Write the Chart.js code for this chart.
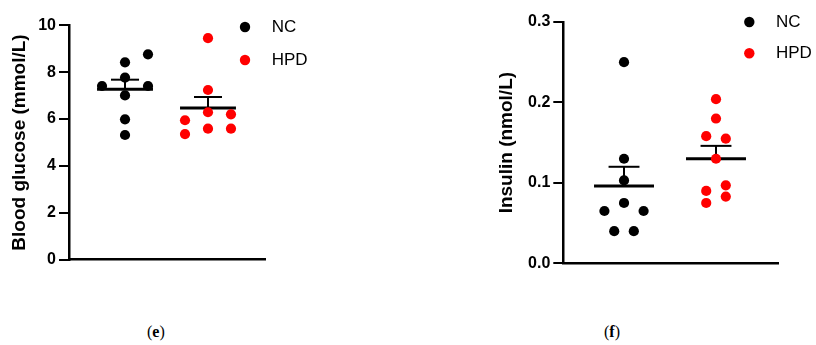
<!DOCTYPE html>
<html><head><meta charset="utf-8">
<script src="https://cdn.jsdelivr.net/npm/chart.js@4"></script>
<style>
html,body{margin:0;padding:0;background:#fff;width:816px;height:345px;overflow:hidden;}
.wrap{position:absolute;}
.cap{position:absolute;font-family:'Liberation Serif','Times New Roman',serif;font-size:16px;color:#000;}
</style></head><body>
<div class="wrap" style="left:0;top:0;width:330px;height:300px"><canvas id="cE"></canvas></div>
<div class="wrap" style="left:440px;top:0;width:376px;height:300px"><canvas id="cF"></canvas></div>
<div class="cap" style="left:147px;top:323px">(<b>e</b>)</div>
<div class="cap" style="left:604px;top:323px">(<b>f</b>)</div>
<script>
// ---- data ----
const groups = ['NC', 'HPD'];
const glucoseNC  = [8.76, 8.42, 7.77, 7.41, 7.41, 7.01, 5.99, 5.32];
const glucoseHPD = [9.45, 7.24, 6.29, 6.20, 5.95, 5.59, 5.59, 5.36];
const glucoseMean = [7.27, 6.47];
const glucoseSEM  = [0.41, 0.47];
const glucoseTicks = [0, 2, 4, 6, 8, 10];
const insulinNC  = [0.250, 0.130, 0.103, 0.075, 0.065, 0.065, 0.040, 0.040];
const insulinHPD = [0.204, 0.180, 0.158, 0.155, 0.130, 0.097, 0.090, 0.083, 0.075];
const insulinMean = [0.096, 0.130];
const insulinSEM  = [0.024, 0.016];
const insulinTicks = [0.0, 0.1, 0.2, 0.3];

// ---- layout (dot-column slots, not data) ----
const glucoseNCSlots  = [1, 0, 0, -1, 1, 0, 0, 0];
const glucoseHPDSlots = [0, 0, 0, 1, -1, 0, 1, -1];
const insulinNCSlots  = [0, 0, 0, 0, -2, 2, -1, 1];
const insulinHPDSlots = [0, 0, -1, 1, 0, 1, -1, 1, -1];
const colors = ['#000000', '#ff0000'];

Chart.defaults.font.family = "'Liberation Sans', Arial, sans-serif";
Chart.defaults.color = '#000';

const dotLegend = {
  id: 'dotLegend',
  afterDraw(chart, args, o) {
    const ctx = chart.ctx;
    ctx.save();
    groups.forEach((g, i) => {
      const y = o.y + i * o.gap;
      ctx.beginPath();
      ctx.arc(o.x, y, 5.2, 0, Math.PI * 2);
      ctx.fillStyle = colors[i];
      ctx.fill();
      ctx.fillStyle = '#000';
      ctx.font = "17px 'Liberation Sans', Arial, sans-serif";
      ctx.textBaseline = 'middle';
      ctx.textAlign = 'left';
      ctx.fillText(g, o.x + 26.7, y + 0.5);
    });
    ctx.restore();
  }
};

function lineDs(pts, w) {
  return { type: 'scatter', data: pts, showLine: true, pointRadius: 0, borderColor: '#000',
           borderWidth: w, fill: false, clip: false };
}

function makeChart(id, c) {
  const series = [c.nc, c.hpd];
  const slots = [c.ncSlots, c.hpdSlots];
  const datasets = [];
  series.forEach((vals, g) => {
    datasets.push({
      type: 'scatter', label: groups[g],
      data: vals.map((v, k) => ({ x: g + 1 + slots[g][k] * c.slot, y: v })),
      pointRadius: 5.1, pointHoverRadius: 5.1, backgroundColor: colors[g], borderWidth: 0, clip: false
    });
  });
  c.mean.forEach((m, g) => {
    const x = g + 1, top = m + c.sem[g];
    datasets.push(lineDs([{ x: x - c.meanHalf, y: m }, { x: x + c.meanHalf, y: m }], 3));
    datasets.push(lineDs([{ x: x, y: m }, { x: x, y: top }], 2));
    datasets.push(lineDs([{ x: x - c.capHalf, y: top }, { x: x + c.capHalf, y: top }], 2));
  });
  return new Chart(document.getElementById(id), {
    type: 'scatter',
    data: { datasets },
    options: {
      responsive: true, maintainAspectRatio: false, animation: false, events: [],
      layout: { padding: c.pad },
      plugins: { legend: { display: false }, tooltip: { enabled: false }, dotLegend: c.legend },
      scales: {
        x: {
          type: 'linear', min: c.xMin, max: c.xMax,
          ticks: { display: false }, grid: { display: false },
          border: { display: true, color: '#000', width: 2.5 },
          afterFit(s) { s.height = c.xH; }
        },
        y: {
          type: 'linear', min: c.ticks[0], max: c.ticks[c.ticks.length - 1],
          afterBuildTicks(s) { s.ticks = c.ticks.map(v => ({ value: v })); },
          ticks: { font: { size: 16, weight: 'bold' }, color: '#000', padding: 3,
                   callback: v => v.toFixed(c.dec) },
          grid: { display: true, drawOnChartArea: false, drawTicks: true, tickLength: 10,
                  color: '#000', lineWidth: 2 },
          border: { display: true, color: '#000', width: 2.5 },
          title: { display: true, text: c.title, color: '#000',
                   font: { size: 19, weight: 'bold' }, padding: { top: c.titlePad, bottom: 0 } },
          afterFit(s) { s.width = c.yW; }
        }
      }
    },
    plugins: [dotLegend]
  });
}

makeChart('cE', {
  nc: glucoseNC, hpd: glucoseHPD, ncSlots: glucoseNCSlots, hpdSlots: glucoseHPDSlots,
  mean: glucoseMean, sem: glucoseSEM, ticks: glucoseTicks, dec: 0,
  title: 'Blood glucose (mmol/L)',
  xMin: 0.325, xMax: 2.687, slot: 0.277, meanHalf: 0.337, capHalf: 0.169,
  pad: { left: 0, top: 25.3, right: 65, bottom: 0 }, yW: 69, xH: 40.3, titlePad: 8.6,
  legend: { x: 245, y: 27, gap: 33 }
});
makeChart('cF', {
  nc: insulinNC, hpd: insulinHPD, ncSlots: insulinNCSlots, hpdSlots: insulinHPDSlots,
  mean: insulinMean, sem: insulinSEM, ticks: insulinTicks, dec: 1,
  title: 'Insulin (nmol/L)',
  xMin: 0.34, xMax: 2.674, slot: 0.1065, meanHalf: 0.326, capHalf: 0.168,
  pad: { left: 47, top: 22, right: 38, bottom: 0 }, yW: 76.3, xH: 36.7, titlePad: 8.3,
  legend: { x: 309.3, y: 22, gap: 31.3 }
});
</script>
</body></html>
